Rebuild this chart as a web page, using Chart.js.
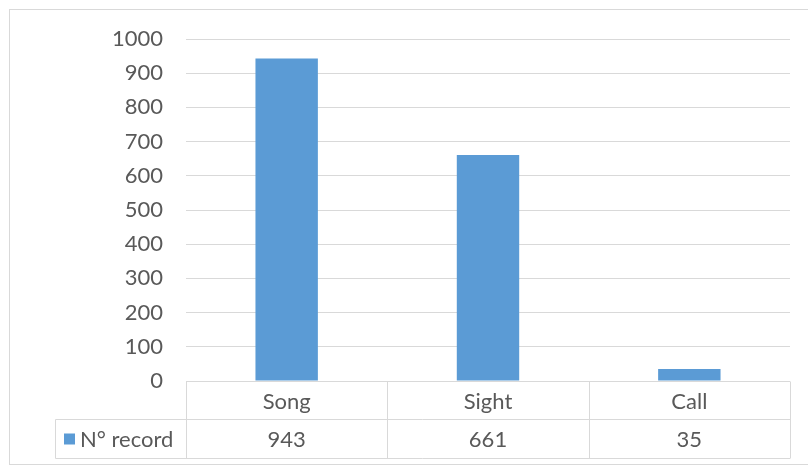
<!DOCTYPE html>
<html>
<head>
<meta charset="utf-8">
<script src="https://cdn.jsdelivr.net/npm/chart.js@4.4.1/dist/chart.umd.min.js"></script>
<style>
  html, body { margin: 0; padding: 0; background: #fff; }
  #wrap { width: 808px; height: 466px; position: relative; }
</style>
</head>
<body>
<div id="wrap"><canvas id="chart"></canvas></div>
<script>
// Records by detection type
const categories = ['Song', 'Sight', 'Call'];
const seriesName = 'N° record';
const records = [943, 661, 35];

const textColor = '#595959';
const lineColor = '#d9d9d9';
const barColor = '#5b9bd5';
const fontFamily = 'Lato, "Open Sans", sans-serif';
const fontSize = 22;

// Outer frame of the chart
const framePlugin = {
    id: 'frame',
    beforeDraw(chart) {
        const ctx = chart.ctx;
        ctx.save();
        ctx.strokeStyle = lineColor;
        ctx.lineWidth = 1;
        ctx.strokeRect(9.5, 9.5, chart.width, 455);
        ctx.restore();
    }
};

// Data table under the plot: category row and value row with legend key
const dataTablePlugin = {
    id: 'dataTable',
    afterDraw(chart) {
        const ctx = chart.ctx;
        const area = chart.chartArea;
        const x = chart.scales.x;
        const colW = (area.right - area.left) / categories.length;
        const y0 = Math.round(area.bottom) + 0.5;
        const y1 = y0 + 38;
        const y2 = y0 + 77;
        const legendLeft = 55.5;

        ctx.save();
        ctx.strokeStyle = lineColor;
        ctx.lineWidth = 1;
        ctx.beginPath();
        // horizontal rules
        ctx.moveTo(area.left, y0); ctx.lineTo(area.right, y0);
        ctx.moveTo(legendLeft, y1); ctx.lineTo(area.right, y1);
        ctx.moveTo(legendLeft, y2); ctx.lineTo(area.right, y2);
        // column separators
        for (let i = 0; i <= categories.length; i++) {
            const cx = Math.round(area.left + i * colW) + 0.5;
            ctx.moveTo(cx, y0); ctx.lineTo(cx, y2);
        }
        ctx.moveTo(legendLeft, y1); ctx.lineTo(legendLeft, y2);
        ctx.stroke();

        ctx.fillStyle = textColor;
        ctx.font = fontSize + 'px ' + fontFamily;
        ctx.textAlign = 'center';
        ctx.textBaseline = 'middle';
        categories.forEach((c, i) => {
            const cx = x.getPixelForValue(i);
            ctx.fillText(c, cx, (y0 + y1) / 2 + 1);
            ctx.fillText(String(records[i]), cx, (y1 + y2) / 2 + 1);
        });

        // legend key
        ctx.fillStyle = barColor;
        ctx.fillRect(64, y1 + 14, 11, 11);
        ctx.fillStyle = textColor;
        ctx.textAlign = 'left';
        ctx.fillText(seriesName, 80, (y1 + y2) / 2 + 1);
        ctx.restore();
    }
};

const chart = new Chart(document.getElementById('chart'), {
    type: 'bar',
    data: {
        labels: categories,
        datasets: [{
            label: seriesName,
            data: records,
            backgroundColor: barColor,
            borderWidth: 0,
            barPercentage: 1,
            categoryPercentage: 0.31
        }]
    },
    options: {
        responsive: true,
        maintainAspectRatio: false,
        animation: false,
        layout: {
            padding: { left: 0, right: 18, top: 39, bottom: 85 }
        },
        plugins: {
            legend: { display: false },
            tooltip: { enabled: false }
        },
        scales: {
            x: {
                display: false
            },
            y: {
                min: 0,
                max: 1000,
                afterFit(scale) { scale.width = 186; },
                border: { display: false },
                grid: {
                    color: lineColor,
                    lineWidth: 1,
                    drawTicks: false
                },
                ticks: {
                    stepSize: 100,
                    padding: 23,
                    color: textColor,
                    font: { family: fontFamily, size: fontSize },
                    callback: value => String(value)
                }
            }
        }
    },
    plugins: [framePlugin, dataTablePlugin]
});
</script>
</body>
</html>
